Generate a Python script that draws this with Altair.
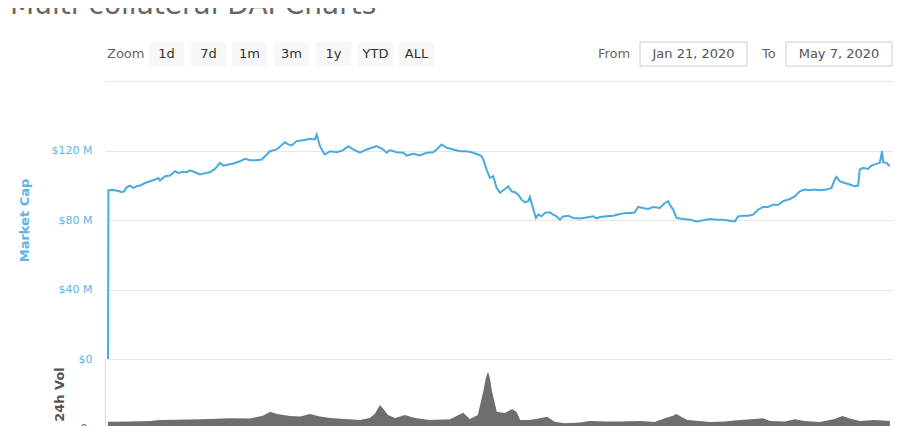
import altair as alt
import pandas as pd

# ---------------- data ----------------
START = pd.Timestamp("2020-01-21")

# Market cap: days since Jan 21 2020, value in $M
cap_days = [0, 0.05, 0.73, 1.41, 1.87, 2.19, 2.55, 3.01, 3.47, 3.92,
            4.38, 5.06, 5.75, 6.43, 6.88, 7.11, 7.8, 8.48, 9.17, 9.62,
            10.3, 10.76, 11.22, 11.9, 12.59, 13.04, 13.95, 14.64, 15.32, 15.78,
            16.46, 17.14, 18.06, 18.74, 19.43, 20.34, 21.02, 21.48, 22.16, 23.08,
            24.21, 24.67, 25.13, 25.81, 26.72, 27.63, 28.32, 28.55, 29.0, 29.45,
            29.69, 30.37, 31.28, 32.19, 32.87, 33.56, 34.47, 35.39, 36.07, 36.76,
            37.66, 38.12, 38.58, 39.49, 40.4, 40.86, 41.77, 42.68, 43.6, 44.5,
            44.96, 45.65, 46.33, 47.24, 48.15, 49.07, 49.97, 50.66, 51.12, 51.35,
            51.8, 52.26, 52.71, 53.17, 53.63, 54.08, 54.54, 54.76, 55.22, 55.68,
            56.13, 56.59, 57.05, 57.5, 57.73, 57.96, 58.28, 58.55, 58.87, 59.33,
            59.78, 60.47, 60.92, 61.38, 61.83, 62.29, 62.97, 63.66, 64.57, 65.49,
            66.39, 66.85, 67.31, 68.22, 69.13, 70.04, 70.96, 71.64, 72.09, 72.54,
            73.23, 73.91, 74.6, 75.51, 76.2, 76.65, 76.88, 77.33, 77.8, 78.7,
            79.62, 80.53, 81.44, 82.35, 83.27, 84.17, 85.09, 85.77, 86.22, 86.91,
            87.6, 88.28, 88.96, 89.65, 90.33, 91.01, 91.7, 92.38, 93.3, 93.98,
            94.66, 95.35, 96.03, 96.72, 97.4, 98.32, 99.0, 99.45, 99.68, 100.14,
            100.82, 101.5, 102.19, 102.64, 102.87, 103.32, 104.01, 104.47, 105.15, 105.61,
            105.92, 106.06, 106.52, 106.98]
cap_values = [0, 97.1, 97.3, 96.7, 96.0, 96.5, 98.8, 99.8, 98.5, 99.4,
              99.8, 101.3, 102.3, 103.3, 104.2, 102.7, 105.2, 105.6, 108.1, 107.1,
              107.7, 107.5, 108.6, 107.5, 106.2, 106.7, 107.5, 109.4, 112.9, 111.3,
              111.9, 112.5, 113.8, 115.2, 114.4, 114.4, 114.8, 116.7, 119.6, 120.6,
              124.8, 123.5, 122.9, 125.4, 125.9, 126.7, 126.4, 129.2, 122.5, 119.0,
              117.7, 119.6, 119.0, 120.2, 122.5, 120.6, 118.7, 120.6, 121.6, 122.5,
              120.6, 118.7, 120.2, 119.0, 118.7, 117.1, 118.1, 117.1, 118.7, 119.0,
              120.6, 123.5, 121.6, 120.6, 119.6, 119.6, 118.7, 117.7, 116.7, 114.8,
              109.0, 104.2, 105.2, 98.5, 95.6, 97.1, 98.5, 99.4, 96.5, 96.0,
              94.6, 91.7, 90.2, 90.8, 93.3, 89.8, 85.0, 81.2, 83.1, 82.1,
              84.1, 84.4, 83.1, 82.1, 80.2, 82.1, 82.5, 81.2, 80.9, 81.5,
              82.1, 80.9, 81.7, 82.1, 82.5, 83.5, 84.1, 84.1, 84.4, 87.5,
              86.9, 86.4, 87.5, 86.9, 89.8, 90.8, 88.8, 86.0, 81.2, 80.6,
              80.2, 79.2, 79.8, 80.6, 80.2, 80.2, 79.6, 79.2, 82.1, 82.5,
              82.5, 83.1, 86.0, 87.5, 87.5, 88.8, 88.8, 90.8, 92.1, 93.6,
              96.5, 97.5, 97.1, 97.5, 97.1, 97.5, 98.5, 103.3, 104.8, 102.3,
              101.3, 100.4, 99.4, 99.8, 109.0, 110.0, 109.4, 111.3, 112.3, 112.9,
              119.6, 113.3, 112.9, 110.9]

# 24h volume: days since Jan 21 2020, value in $M
vol_days = [0, 3.0, 5.75, 7.11, 11.2, 13.95, 16.7, 19.4, 21.1, 22.2, 23.1, 24.9, 26.3,
            27.6, 29.0, 30.4, 32.4, 34.5, 35.8, 36.5, 37.2, 37.8, 38.3, 39.3, 40.6,
            42.0, 44.0, 46.8, 48.6, 49.5, 50.6, 51.3, 51.7, 52.0, 52.3, 52.5, 53.2,
            54.3, 55.3, 55.9, 56.4, 57.7, 59.1, 60.1, 61.1, 62.5, 64.6, 65.9, 68.0,
            70.0, 72.8, 74.8, 76.2, 77.2, 77.8, 78.5, 79.3, 80.9, 82.3, 84.4, 86.5,
            88.5, 89.6, 90.6, 92.6, 94.0, 95.3, 97.4, 99.4, 100.5, 101.5, 102.9,
            104.9, 107.0]
vol_values = [3.7, 3.8, 4.1, 4.7, 5.0, 5.3, 5.7, 5.6, 7.1, 9.6, 8.2, 7.1, 6.8,
              8.2, 6.8, 5.9, 5.3, 4.7, 5.9, 8.2, 13.5, 10.6, 7.6, 5.9, 7.6,
              5.9, 4.7, 5.1, 9.0, 5.3, 7.6, 20.6, 29.4, 33.1, 28.2, 22.4, 9.6,
              8.8, 11.2, 9.4, 4.7, 4.7, 5.7, 6.6, 3.7, 2.8, 3.2, 4.1, 3.8,
              3.8, 4.1, 3.6, 5.7, 7.1, 8.2, 6.5, 4.7, 4.1, 3.5, 3.8, 4.7,
              5.3, 5.7, 4.1, 3.8, 5.1, 4.1, 3.5, 5.3, 7.1, 5.6, 4.1,
              4.7, 4.1]

zoom_labels = ["1d", "7d", "1m", "3m", "1y", "YTD", "ALL"]
cap_ticks = [0, 40, 80, 120, 160]

title_text = "Multi-collateral DAI Charts"
from_text = "Jan 21, 2020"
to_text = "May 7, 2020"

# ---------------- frames ----------------
cap_df = pd.DataFrame({
    "date": START + pd.to_timedelta(cap_days, unit="D"),
    "cap": cap_values,
})
vol_df = pd.DataFrame({
    "date": START + pd.to_timedelta(vol_days, unit="D"),
    "vol": vol_values,
})

# layout (pixels relative to plot origin)
W = 788
CAP_RANGE = [278, 0]
VOL_RANGE = [347, 279]
FONT = "DejaVu Sans"
BLUE = "#4aa9df"
LABEL_BLUE = "#62b3e3"

x_scale = alt.Scale(domain=[alt.DateTime(year=2020, month=1, date=20, hours=14),
                            alt.DateTime(year=2020, month=5, date=7, hours=10)])

cap_line = alt.Chart(cap_df).mark_line(color=BLUE, strokeWidth=2).encode(
    x=alt.X("date:T", scale=x_scale, axis=None),
    y=alt.Y("cap:Q", scale=alt.Scale(domain=[0, 160], range=CAP_RANGE, nice=False),
            axis=alt.Axis(orient="left", values=cap_ticks, grid=True, gridColor="#e6e6e6",
                          domain=False, ticks=False, tickSize=0, labelPadding=13,
                          labelColor=LABEL_BLUE, labelFont=FONT, labelFontSize=11,
                          labelExpr="datum.value == 0 ? '$0' : (datum.value >= 160 ? '' : '$' + datum.value + ' M')",
                          title="Market Cap", titleColor=LABEL_BLUE, titleFont=FONT,
                          titleFontSize=13, titleFontWeight="bold",
                          titleX=-81, titleY=139, titleAngle=270,
                          titleAlign="center", titleBaseline="middle")),
)

vol_area = alt.Chart(vol_df).mark_area(color="#6e6e6e", opacity=1).encode(
    x=alt.X("date:T", scale=x_scale, axis=None),
    y=alt.Y("vol:Q", scale=alt.Scale(domain=[0, 40], range=VOL_RANGE, nice=False),
            axis=alt.Axis(orient="left", values=[0], grid=False, domain=True,
                          domainColor="#d5dbe5",
                          ticks=False, tickSize=0, labelPadding=18,
                          labelColor="#666666", labelFont=FONT, labelFontSize=11,
                          title="24h Vol", titleColor="#555555", titleFont=FONT,
                          titleFontSize=13, titleFontWeight="bold",
                          titleX=-46, titleY=313, titleAngle=270,
                          titleAlign="center", titleBaseline="middle")),
)

# header: title, zoom buttons, date inputs
btn_left = [44, 86, 127, 169, 211, 253, 294]
btn_df = pd.DataFrame({
    "label": zoom_labels,
    "x0": btn_left,
    "x1": [v + 35 for v in btn_left],
})
btn_df["xc"] = (btn_df["x0"] + btn_df["x1"]) / 2

buttons = alt.Chart(btn_df).mark_rect(fill="#f7f7f7").encode(
    x=alt.X("x0:Q", scale=None), x2="x1:Q",
    y=alt.value(-39), y2=alt.value(-15),
)
button_text = alt.Chart(btn_df).mark_text(font=FONT, fontSize=13, color="#333333",
                                          baseline="middle", align="center").encode(
    x=alt.X("xc:Q", scale=None), y=alt.value(-27), text="label:N",
)

hdr_df = pd.DataFrame({
    "t": ["Zoom", "From", "To"],
    "x": [2, 493, 657],
})
hdr_text = alt.Chart(hdr_df).mark_text(font=FONT, fontSize=13, color="#666666",
                                       baseline="middle", align="left").encode(
    x=alt.X("x:Q", scale=None), y=alt.value(-27), text="t:N",
)

box_df = pd.DataFrame({
    "t": [from_text, to_text],
    "x0": [535, 681],
    "x1": [642, 787],
})
box_df["xc"] = (box_df["x0"] + box_df["x1"]) / 2
boxes = alt.Chart(box_df).mark_rect(fill="white", stroke="#cccccc", strokeWidth=1).encode(
    x=alt.X("x0:Q", scale=None), x2="x1:Q",
    y=alt.value(-39), y2=alt.value(-15),
)
box_text = alt.Chart(box_df).mark_text(font=FONT, fontSize=13, color="#555555",
                                       baseline="middle", align="center").encode(
    x=alt.X("xc:Q", scale=None), y=alt.value(-27), text="t:N",
)

title_df = pd.DataFrame({"t": [title_text]})
title = alt.Chart(title_df).mark_text(font=FONT, fontSize=28, color="#666666",
                                      baseline="alphabetic", align="left").encode(
    x=alt.value(-95), y=alt.value(-67), text="t:N",
)

chart = alt.layer(
    cap_line, vol_area, buttons, button_text, hdr_text, boxes, box_text, title
).resolve_scale(y="independent", x="independent").resolve_axis(y="independent").properties(
    width=W,
    height=347,
    autosize=alt.AutoSizeParams(type="none"),
    padding={"left": 97, "top": 73, "right": 2, "bottom": 0},
    background="white",
).configure_view(stroke=None)

chart.save("out.html", embed_options={"renderer": "svg", "actions": False})
